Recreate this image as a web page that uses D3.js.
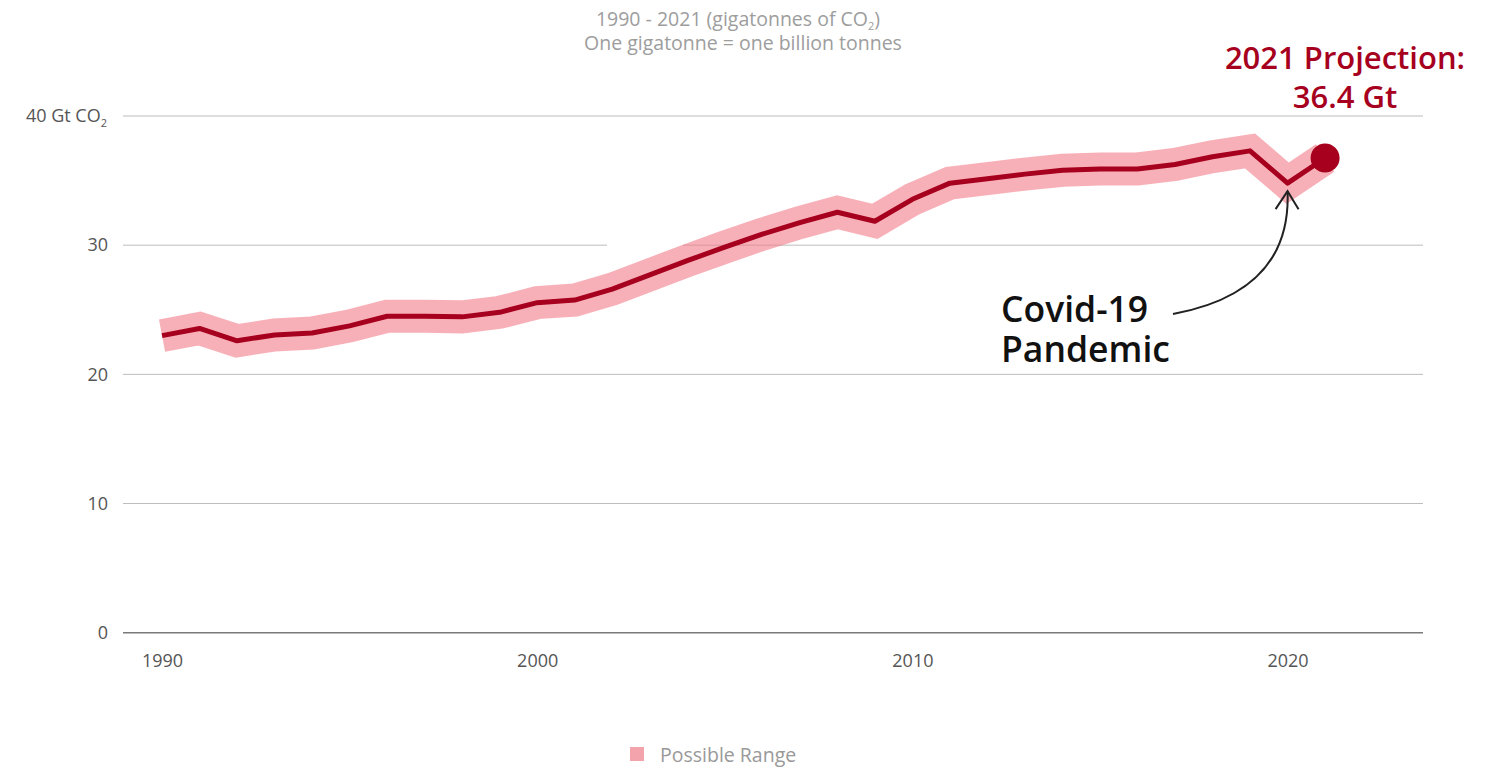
<!DOCTYPE html>
<html>
<head>
<meta charset="utf-8">
<script src="https://cdn.jsdelivr.net/npm/d3@7"></script>
<style>
  html, body { margin: 0; padding: 0; background: #fff; }
  svg { display: block; font-family: "Open Sans", "Noto Sans", sans-serif; }
</style>
</head>
<body>
<svg id="chart" width="1495" height="768"></svg>
<script>
// ---- data ----
const years = [1990,1991,1992,1993,1994,1995,1996,1997,1998,1999,2000,2001,2002,2003,2004,2005,
               2006,2007,2008,2009,2010,2011,2012,2013,2014,2015,2016,2017,2018,2019,2020,2021];
const emissions = [23.0,23.55,22.6,23.05,23.2,23.75,24.5,24.5,24.45,24.8,25.55,25.75,26.6,27.7,28.8,29.85,
                   30.85,31.75,32.55,31.85,33.55,34.8,35.15,35.5,35.8,35.9,35.9,36.25,36.85,37.3,34.8,36.75];
const xTicks = [1990, 2000, 2010, 2020];
const yTicks = [0, 10, 20, 30, 40];
const subtitleLines = ["1990 - 2021 (gigatonnes of CO", "One gigatonne = one billion tonnes"];
const projectionLabel = ["2021 Projection:", "36.4 Gt"];
const covidLabel = ["Covid-19", "Pandemic"];
const legendLabel = "Possible Range";

const data = years.map((yr, i) => ({ year: yr, value: emissions[i] }));

const svg = d3.select("#chart");
const plotLeft = 123, plotRight = 1423, plotTop = 116, plotBottom = 632.7;

const x = d3.scaleLinear().domain([1988.96, 2023.61]).range([plotLeft, plotRight]);
const y = d3.scaleLinear().domain([0, 40]).range([plotBottom, plotTop]);

// ---- subtitle (one text element, two lines) ----
const sub = svg.append("text").attr("fill", "#9d9d9d").attr("font-size", 19.5)
  .attr("text-anchor", "middle");
sub.append("tspan").attr("x", 738).attr("y", 26).text(subtitleLines[0]);
sub.append("tspan").attr("font-size", 11).attr("dy", 4).text("2");
sub.append("tspan").attr("dy", -4).text(")");
sub.append("tspan").attr("x", 743).attr("y", 50).text(subtitleLines[1]);

// ---- gridlines ----
const grid = svg.append("g").attr("class", "grid");
grid.selectAll("line").data(yTicks.filter(d => d !== 0)).join("line")
  .attr("x1", plotLeft).attr("x2", plotRight)
  .attr("y1", d => y(d)).attr("y2", d => y(d))
  .attr("stroke", "#bcbcbc").attr("stroke-width", 1);
// gap in the 30 gridline as in the reference
svg.append("rect").attr("x", 607).attr("y", y(30) - 3).attr("width", 76).attr("height", 6).attr("fill", "#fff");

// baseline
svg.append("line").attr("x1", plotLeft).attr("x2", plotRight).attr("y1", y(0)).attr("y2", y(0))
  .attr("stroke", "#7a7a7a").attr("stroke-width", 1.6);

// ---- y axis labels ----
const yAxis = d3.axisLeft(y).tickValues(yTicks).tickSize(0).tickPadding(0).tickFormat(d => d);
const gy = svg.append("g").attr("transform", `translate(${plotLeft - 15},0)`).call(yAxis);
gy.select(".domain").remove();
gy.selectAll("text").attr("font-size", 18).attr("fill", "#555").attr("font-family", "\"Open Sans\", sans-serif");
gy.selectAll(".tick").filter(d => d === 40).select("text").each(function() {
  const t = d3.select(this);
  t.text(null);
  t.append("tspan").text("40 Gt CO");
  t.append("tspan").attr("font-size", 11).attr("dy", 5).text("2");
}).attr("x", -1);

// ---- x axis labels ----
const xAxis = d3.axisBottom(x).tickValues(xTicks).tickSize(0).tickPadding(0).tickFormat(d3.format("d"));
const gx = svg.append("g").attr("transform", `translate(0,${plotBottom + 22})`).call(xAxis);
gx.select(".domain").remove();
gx.selectAll("text").attr("font-size", 18).attr("fill", "#555").attr("font-family", "\"Open Sans\", sans-serif");

// ---- band & line ----
const line = d3.line().x(d => x(d.year)).y(d => y(d.value)).curve(d3.curveLinear);
svg.append("path").datum(data).attr("d", line)
  .attr("fill", "none").attr("stroke", "#f47c89").attr("stroke-opacity", 0.6)
  .attr("stroke-width", 33).attr("stroke-linejoin", "miter").attr("stroke-linecap", "butt");
svg.append("path").datum(data).attr("d", line)
  .attr("fill", "none").attr("stroke", "#a6001e").attr("stroke-width", 5)
  .attr("stroke-linejoin", "round");

const last = data[data.length - 1];
svg.append("circle").attr("cx", x(last.year)).attr("cy", y(last.value)).attr("r", 14.5).attr("fill", "#a6001e");

// ---- projection label ----
const proj = svg.append("text").attr("fill", "#a6001e").attr("font-size", 31).attr("font-weight", 600)
  .attr("text-anchor", "middle");
proj.append("tspan").attr("x", 1345).attr("y", 69).text(projectionLabel[0]);
proj.append("tspan").attr("x", 1345).attr("y", 108).text(projectionLabel[1]);

// ---- covid annotation ----
const cov = svg.append("text").attr("fill", "#111").attr("font-size", 35.5).attr("font-weight", 600);
cov.append("tspan").attr("x", 1001).attr("y", 322).text(covidLabel[0]);
cov.append("tspan").attr("x", 1001).attr("y", 362).text(covidLabel[1]);

const c2020 = data.find(d => d.year === 2020);
const tipX = x(c2020.year), tipY = y(c2020.value) + 8;
svg.append("path")
  .attr("d", `M1173,314 Q${tipX + 4},292 ${tipX},${tipY}`)
  .attr("fill", "none").attr("stroke", "#222").attr("stroke-width", 2);
svg.append("path")
  .attr("d", `M${tipX - 12},${tipY + 18} L${tipX},${tipY} L${tipX + 11},${tipY + 18}`)
  .attr("fill", "none").attr("stroke", "#222").attr("stroke-width", 2);

// ---- legend ----
const leg = svg.append("g");
leg.append("rect").attr("x", 630).attr("y", 747).attr("width", 14).attr("height", 14).attr("fill", "#f2a3ab");
leg.append("text").attr("x", 660).attr("y", 762).attr("font-size", 19.5).attr("fill", "#999")
  .text(legendLabel);
</script>
</body>
</html>
